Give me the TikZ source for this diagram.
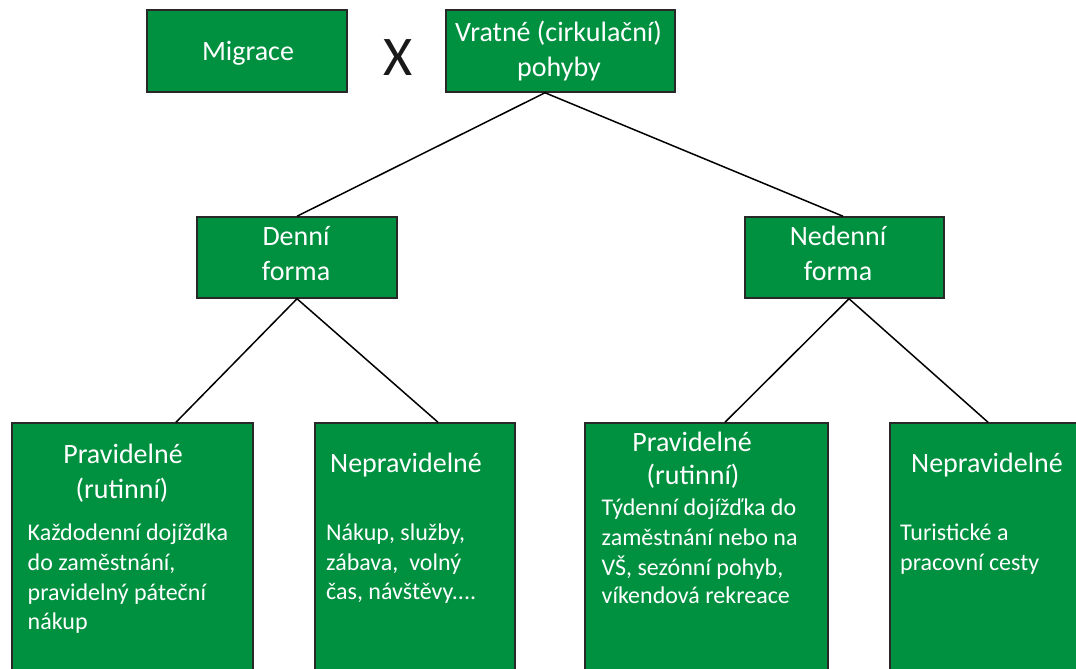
\documentclass[tikz,border=0pt]{standalone}
\usepackage{fontspec}
\setmainfont{Carlito}
\usetikzlibrary{calc}
\definecolor{boxgreen}{RGB}{0,145,64}
\definecolor{boxedge}{RGB}{40,40,40}
\definecolor{inkdark}{RGB}{25,25,25}
\begin{document}
\begin{tikzpicture}[x=1pt,y=-1pt,
  box/.style={draw=boxedge, fill=boxgreen, line width=1.5pt, rectangle, inner sep=0pt},
  head/.style={text=white, font=\fontsize{28}{34}\selectfont, anchor=base, inner sep=0pt},
  body/.style={text=white, font=\fontsize{24}{29}\selectfont, anchor=base west, inner sep=0pt},
  link/.style={draw=black, line width=1.5pt}]
\useasboundingbox (0,0) rectangle (1076,669);
\clip (0,0) rectangle (1076,669);
\fill[white] (0,0) rectangle (1076,669);

% boxes
\node[box, minimum width=200pt, minimum height=82pt] (mig) at (247,51) {};
\node[box, minimum width=229pt, minimum height=82pt] (vrat) at (560.5,51) {};
\node[box, minimum width=200pt, minimum height=81pt] (den) at (297,257.5) {};
\node[box, minimum width=199pt, minimum height=81pt] (neden) at (844.5,257.5) {};
\node[box, minimum width=241pt, minimum height=277pt] (b1) at (132.5,561.5) {};
\node[box, minimum width=200pt, minimum height=277pt] (b2) at (415,561.5) {};
\node[box, minimum width=243pt, minimum height=277pt] (b3) at (706.5,561.5) {};
\node[box, minimum width=200pt, minimum height=277pt] (b4) at (990,561.5) {};

% connectors
\draw[link] ($(vrat.south)+(-15.5,0)$) -- (den.north);
\draw[link] ($(vrat.south)+(-15.5,0)$) -- ($(neden.north)+(-1.5,0)$);
\draw[link] (den.south) -- ($(b1.north)+(43.5,0)$);
\draw[link] (den.south) -- ($(b2.north)+(23,0)$);
\draw[link] ($(neden.south)+(4.5,0)$) -- ($(b3.north)+(18.5,0)$);
\draw[link] ($(neden.south)+(4.5,0)$) -- ($(b4.north)+(-2,0)$);

% top row
\node[head] (migt) at (248,61) {Migrace};
\node[anchor=base, inner sep=0pt, text=inkdark, font=\fontsize{56}{60}\selectfont] (ex) at (398,75) {X};
\node[head] (vrt1) at (558.5,42) {Vratné (cirkulační)};
\node[head] (vrt2) at (559,77) {pohyby};

% middle row
\node[head] (dent1) at (296,245) {Denní};
\node[head] (dent2) at (296,280) {forma};
\node[head] (nedt1) at (838,245) {Nedenní};
\node[head] (nedt2) at (838,280) {forma};

% daily, regular
\node[head] (b1h1) at (123,463) {Pravidelné};
\node[head] (b1h2) at (122,498) {(rutinní)};
\node[body] (b1l1) at (27.5,540) {Každodenní dojížďka};
\node[body] (b1l2) at (27.5,570) {do zaměstnání,};
\node[body] (b1l3) at (27.5,600) {pravidelný páteční};
\node[body] (b1l4) at (27.5,629) {nákup};

% daily, irregular
\node[head] (b2h1) at (406,472) {Nepravidelné};
\node[body] (b2l1) at (326,540) {Nákup, služby,};
\node[body] (b2l2) at (326,570) {zábava,\ \ volný};
\node[body] (b2l3) at (326,599) {čas, návštěvy....};

% non-daily, regular
\node[head] (b3h1) at (692,451) {Pravidelné};
\node[head] (b3h2) at (693,484) {(rutinní)};
\node[body] (b3l1) at (601.5,515) {Týdenní dojížďka do};
\node[body] (b3l2) at (601.5,545) {zaměstnání nebo na};
\node[body] (b3l3) at (601.5,575) {VŠ, sezónní pohyb,};
\node[body] (b3l4) at (601.5,603) {víkendová rekreace};

% non-daily, irregular
\node[head] (b4h1) at (987,472) {Nepravidelné};
\node[body] (b4l1) at (900,540) {Turistické a};
\node[body] (b4l2) at (900,570) {pracovní cesty};
\end{tikzpicture}
\end{document}
